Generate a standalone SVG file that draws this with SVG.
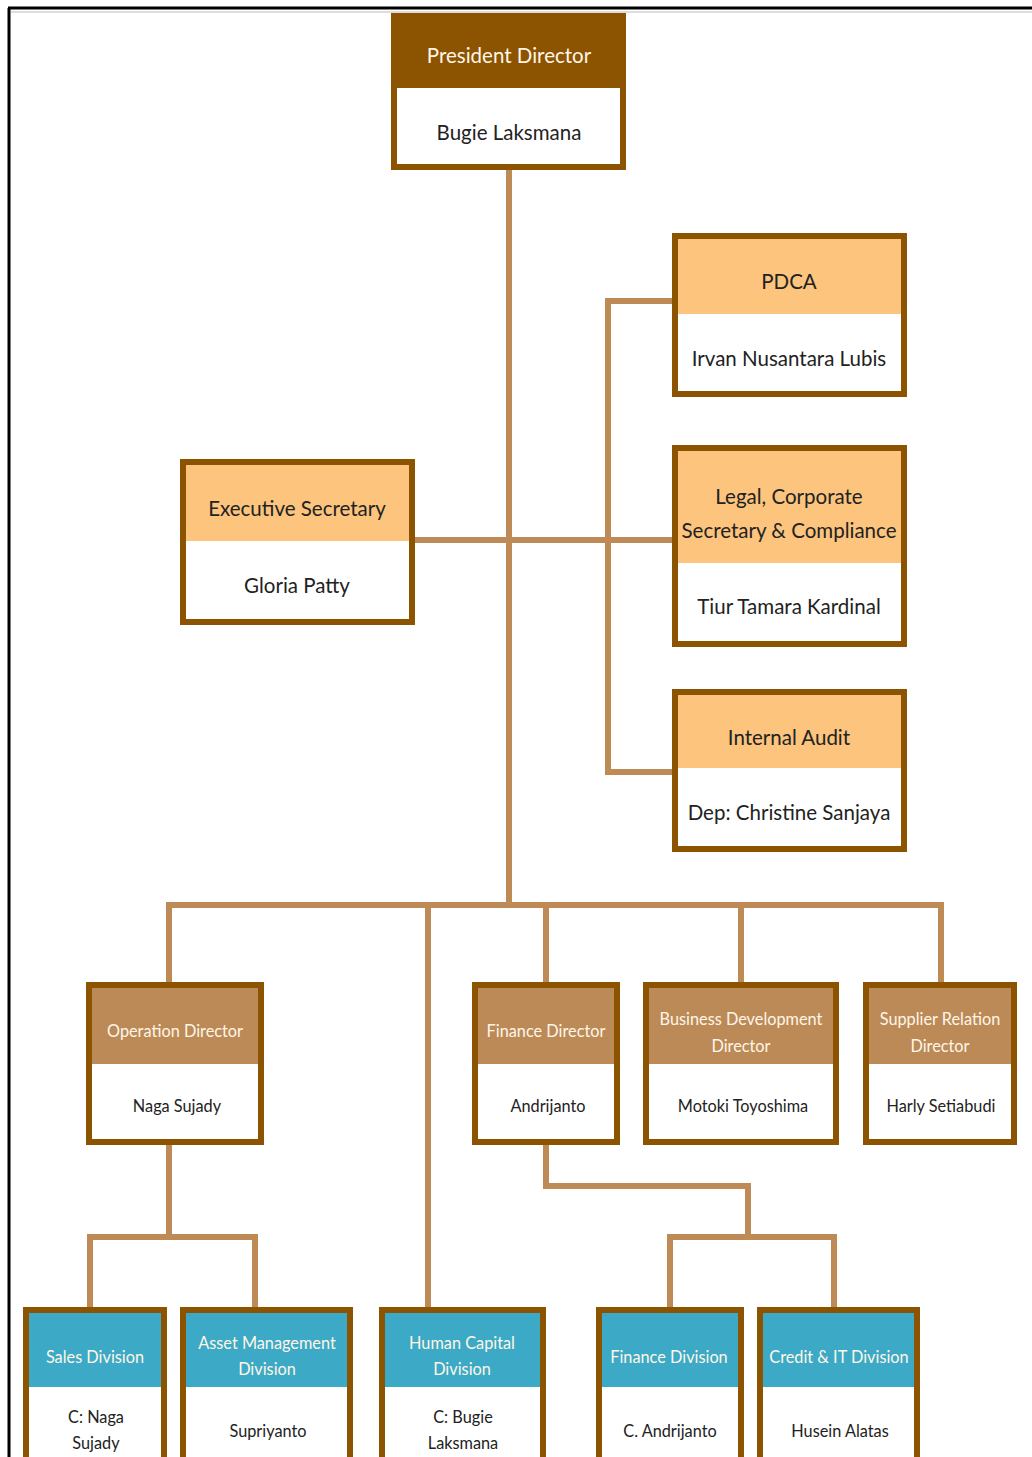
<svg xmlns="http://www.w3.org/2000/svg" width="1032" height="1457" viewBox="0 0 1032 1457">
<style>
.box{fill:#fff;stroke:#8C5400;stroke-width:6}
.hd1{fill:#8C5400}
.hd2{fill:#FCC47D}
.hd3{fill:#BC8A57}
.hd4{fill:#3CAAC6}
.t{font-family:Lato,"Open Sans",sans-serif;text-anchor:middle;dominant-baseline:central}
.big{font-size:20.5px}
.mid{font-size:16.3px}
.dk{fill:#222}
.wh{fill:#FFF6E8}
.con{fill:none;stroke:#BE8B57;stroke-width:6;stroke-linejoin:miter}
</style>
<rect x="0" y="0" width="1032" height="1457" fill="#fff"/>
<line x1="9" y1="8" x2="9" y2="1457" stroke="#000" stroke-width="3"/>
<line x1="8" y1="8" x2="1032" y2="8" stroke="#000" stroke-width="3"/>
<line x1="11" y1="12" x2="1032" y2="12" stroke="#ddd" stroke-width="2"/>
<g id="connectors">
<path class="con" d="M509 168 V905"/>
<path class="con" d="M672 301 H608 V772 H672"/>
<path class="con" d="M415 540 H672"/>
<path class="con" d="M169 982 V905 H941 V982"/>
<path class="con" d="M428 905 V1308"/>
<path class="con" d="M546 905 V982"/>
<path class="con" d="M741 905 V982"/>
<path class="con" d="M169 1145 V1237"/>
<path class="con" d="M90 1308 V1237 H255 V1308"/>
<path class="con" d="M546 1145 V1186 H748 V1237"/>
<path class="con" d="M670 1308 V1237 H834 V1308"/>
</g>
<g id="president">
<rect class="box" x="394" y="16" width="229" height="151"/>
<rect class="hd1" x="394" y="16" width="229" height="72"/>
<text class="t big wh" x="509" y="55">President Director</text>
<text class="t big dk" x="509" y="132">Bugie Laksmana</text>
</g>
<g id="pdca">
<rect class="box" x="675" y="236" width="229" height="158"/>
<rect class="hd2" x="678" y="239" width="223" height="75"/>
<text class="t big dk" x="789" y="281">PDCA</text>
<text class="t big dk" x="789" y="358">Irvan Nusantara Lubis</text>
</g>
<g id="legal">
<rect class="box" x="675" y="448" width="229" height="196"/>
<rect class="hd2" x="678" y="451" width="223" height="112"/>
<text class="t big dk" x="789" y="496">Legal, Corporate</text>
<text class="t big dk" x="789" y="530">Secretary &amp; Compliance</text>
<text class="t big dk" x="789" y="606">Tiur Tamara Kardinal</text>
</g>
<g id="audit">
<rect class="box" x="675" y="692" width="229" height="157"/>
<rect class="hd2" x="678" y="695" width="223" height="73"/>
<text class="t big dk" x="789" y="737">Internal Audit</text>
<text class="t big dk" x="789" y="812">Dep: Christine Sanjaya</text>
</g>
<g id="exec">
<rect class="box" x="183" y="462" width="229" height="160"/>
<rect class="hd2" x="186" y="465" width="223" height="76"/>
<text class="t big dk" x="297" y="508">Executive Secretary</text>
<text class="t big dk" x="297" y="585">Gloria Patty</text>
</g>
<g id="opdir">
<rect class="box" x="89" y="985" width="172" height="157"/>
<rect class="hd3" x="92" y="988" width="166" height="76"/>
<text class="t mid wh" x="175" y="1030">Operation Director</text>
<text class="t mid dk" x="177" y="1105">Naga Sujady</text>
</g>
<g id="findir">
<rect class="box" x="475" y="985" width="142" height="157"/>
<rect class="hd3" x="478" y="988" width="136" height="76"/>
<text class="t mid wh" x="546" y="1030">Finance Director</text>
<text class="t mid dk" x="548" y="1105">Andrijanto</text>
</g>
<g id="busdev">
<rect class="box" x="646" y="985" width="190" height="157"/>
<rect class="hd3" x="649" y="988" width="184" height="76"/>
<text class="t mid wh" x="741" y="1018">Business Development</text>
<text class="t mid wh" x="741" y="1045">Director</text>
<text class="t mid dk" x="743" y="1105">Motoki Toyoshima</text>
</g>
<g id="supplier">
<rect class="box" x="866" y="985" width="148" height="157"/>
<rect class="hd3" x="869" y="988" width="142" height="76"/>
<text class="t mid wh" x="940" y="1018">Supplier Relation</text>
<text class="t mid wh" x="940" y="1045">Director</text>
<text class="t mid dk" x="941" y="1105">Harly Setiabudi</text>
</g>
<g id="sales">
<rect class="box" x="26" y="1310" width="138" height="200"/>
<rect class="hd4" x="29" y="1313" width="132" height="74"/>
<text class="t mid wh" x="95" y="1356">Sales Division</text>
<text class="t mid dk" x="96" y="1416">C: Naga</text>
<text class="t mid dk" x="96" y="1442">Sujady</text>
</g>
<g id="asset">
<rect class="box" x="183" y="1310" width="167" height="200"/>
<rect class="hd4" x="186" y="1313" width="161" height="74"/>
<text class="t mid wh" x="267" y="1342">Asset Management</text>
<text class="t mid wh" x="267" y="1368">Division</text>
<text class="t mid dk" x="268" y="1430">Supriyanto</text>
</g>
<g id="hc">
<rect class="box" x="382" y="1310" width="161" height="200"/>
<rect class="hd4" x="385" y="1313" width="155" height="74"/>
<text class="t mid wh" x="462" y="1342">Human Capital</text>
<text class="t mid wh" x="462" y="1368">Division</text>
<text class="t mid dk" x="463" y="1416">C: Bugie</text>
<text class="t mid dk" x="463" y="1442">Laksmana</text>
</g>
<g id="findiv">
<rect class="box" x="599" y="1310" width="142" height="200"/>
<rect class="hd4" x="602" y="1313" width="136" height="74"/>
<text class="t mid wh" x="669" y="1356">Finance Division</text>
<text class="t mid dk" x="670" y="1430">C. Andrijanto</text>
</g>
<g id="credit">
<rect class="box" x="760" y="1310" width="157" height="200"/>
<rect class="hd4" x="763" y="1313" width="151" height="74"/>
<text class="t mid wh" x="839" y="1356">Credit &amp; IT Division</text>
<text class="t mid dk" x="840" y="1430">Husein Alatas</text>
</g>
</svg>
